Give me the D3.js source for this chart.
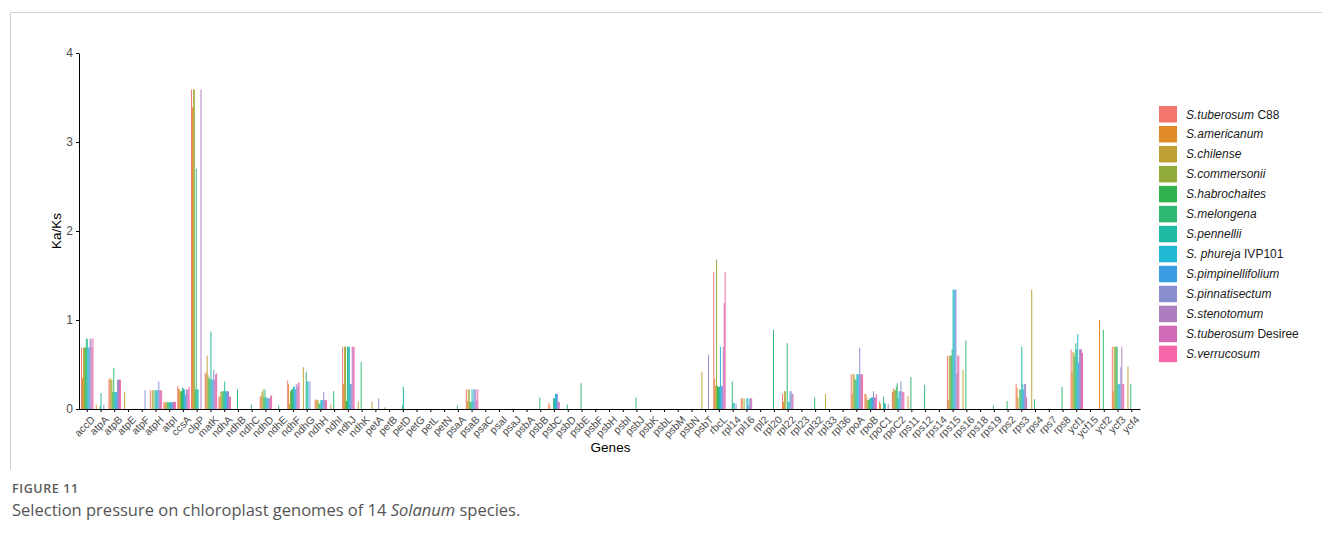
<!DOCTYPE html>
<html>
<head>
<meta charset="utf-8">
<script src="https://cdn.jsdelivr.net/npm/d3@7/dist/d3.min.js"></script>
<style>
  html, body { margin: 0; padding: 0; background: #fff; }
  svg { display: block; }
  .axis text { font-family: "Liberation Sans", Arial, sans-serif; fill: #4d4d4d; }
  .axis path, .axis line { stroke: #000; }
</style>
</head>
<body>
<svg id="chart" width="1322" height="537"></svg>
<script>
// Genes along the x axis
const genes = ["accD","atpA","atpB","atpE","atpF","atpH","atpI","ccsA","clpP","matK",
  "ndhA","ndhB","ndhC","ndhD","ndhE","ndhF","ndhG","ndhH","ndhI","ndhJ",
  "ndhK","petA","petB","petD","petG","petL","petN","psaA","psaB","psaC",
  "psaI","psaJ","psbA","psbB","psbC","psbD","psbE","psbF","psbH","psbI",
  "psbJ","psbK","psbL","psbM","psbN","psbT","rbcL","rpl14","rpl16","rpl2",
  "rpl20","rpl22","rpl23","rpl32","rpl33","rpl36","rpoA","rpoB","rpoC1","rpoC2",
  "rps11","rps12","rps14","rps15","rps16","rps18","rps19","rps2","rps3","rps4",
  "rps7","rps8","ycf1","ycf15","ycf2","ycf3","ycf4"];

// Species (legend order): [italic part, plain part]
const speciesNames = [
  ["S.tuberosum", " C88"], ["S.americanum", ""], ["S.chilense", ""], ["S.commersonii", ""],
  ["S.habrochaites", ""], ["S.melongena", ""], ["S.pennellii", ""], ["S. phureja", " IVP101"],
  ["S.pimpinellifolium", ""], ["S.pinnatisectum", ""], ["S.stenotomum", ""],
  ["S.tuberosum", " Desiree"], ["S.verrucosum", ""]
];

const speciesColors = ["#F4766F","#E08A2A","#BFA032","#92AC3C","#2FB24B","#2EB673","#1DB9A2",
  "#20B7D5","#3A9DE2","#888ED0","#AE7DBF","#D16AB6","#F565A8"];

// Ka/Ks per gene, one array per species (same order as genes)
const tuberosumC88 = [
  0.69,0,0.33,0,0,0.21,0.08,0.26,3.59,0.40,
  0.14,0,0,0.14,0,0.32,0,0.10,0,0.70,
  0,0,0,0,0,0,0,0,0.22,0,
  0,0,0,0,0.07,0,0,0,0,0,
  0,0,0,0,0,0,1.54,0,0.12,0,
  0,0.17,0,0,0,0,0.39,0.17,0,0.19,
  0,0,0,0.60,0,0,0,0,0.28,0,
  0,0,0.67,0,0,0.70,0];
const americanum = [
  0.35,0.05,0.35,0,0,0,0.07,0.23,3.39,0.41,
  0.14,0,0,0.15,0,0.28,0,0.11,0,0.28,
  0,0,0.02,0,0,0,0,0,0.09,0,
  0,0,0,0,0.04,0,0,0,0,0,
  0,0,0,0,0,0,0.34,0,0.12,0,
  0,0.08,0,0,0,0,0.17,0.17,0.08,0.23,
  0,0,0,0.10,0,0,0,0,0.24,0,
  0,0,0.42,0,1.00,0.20,0];
const chilense = [
  0.69,0,0.33,0.19,0,0.21,0.08,0.22,3.59,0.60,
  0.19,0,0,0.19,0,0.06,0.47,0.10,0.05,0.70,
  0.08,0.08,0,0,0,0,0,0,0.22,0,
  0,0,0,0,0,0,0,0,0,0,
  0,0,0,0,0,0.42,0.26,0,0,0,
  0,0.20,0,0,0.17,0,0.39,0.13,0.06,0.21,
  0.15,0,0,0.60,0.44,0,0,0,0.13,1.34,
  0,0,0.64,0,0,0.70,0.48];
const commersonii = [
  0.69,0,0.33,0,0,0.21,0.07,0.20,3.59,0.38,
  0.20,0,0,0.22,0,0.20,0,0.10,0,0.70,
  0,0,0,0,0,0,0,0,0.22,0,
  0,0,0,0,0,0,0,0,0,0,
  0,0,0,0,0,0,1.68,0,0.12,0,
  0,0.20,0,0,0,0,0.39,0.10,0,0.21,
  0,0,0,0.60,0,0,0,0,0,0,
  0,0,0.63,0,0,0.70,0];
const habrochaites = [
  0.69,0,0.19,0,0,0,0.08,0.20,0.22,0.35,
  0.20,0,0,0.13,0,0.22,0,0.06,0,0.09,
  0,0,0,0,0,0,0,0,0.08,0,
  0,0,0,0,0,0,0,0,0,0,
  0,0,0,0,0,0,0.26,0,0,0,
  0,0,0,0,0,0,0.33,0.10,0,0.25,
  0,0,0,0.60,0,0,0,0,0.22,0,
  0,0,0.59,0,0,0.70,0];
const melongena = [
  0.79,0.03,0.46,0,0,0.21,0.07,0.24,2.70,0.33,
  0.20,0.22,0.05,0.22,0.04,0.22,0.42,0.06,0.20,0.70,
  0.53,0,0,0.04,0,0,0,0.04,0.08,0,
  0,0,0,0.13,0.12,0.05,0.29,0,0,0,
  0.13,0,0,0,0,0,0.25,0.31,0,0,
  0.89,0.74,0,0.13,0,0,0.33,0.12,0.14,0.29,
  0.36,0.27,0,0.67,0.77,0,0.04,0.09,0.22,0.11,
  0,0.25,0.74,0,0.89,0.70,0.28];
const pennellii = [
  0.79,0.18,0.19,0,0,0.21,0.08,0.23,0.22,0.87,
  0.31,0,0,0.13,0,0.25,0.31,0.10,0,0.70,
  0,0,0,0.25,0,0,0,0,0.22,0,
  0,0,0,0,0.12,0,0,0,0,0,
  0,0,0,0,0,0,0.25,0.07,0.12,0,
  0,0.08,0,0,0,0,0.39,0.12,0.07,0.12,
  0,0,0,1.34,0,0,0,0,0.70,0,
  0,0,0.67,0,0,0.28,0];
const phurejaIVP101 = [
  0.69,0,0.19,0,0,0.21,0.08,0.22,0.22,0.33,
  0.20,0,0,0.13,0,0.25,0.31,0.10,0,0.70,
  0,0,0,0,0,0,0,0,0.09,0,
  0,0,0,0,0.17,0,0,0,0,0,
  0,0,0,0,0,0,0.70,0.07,0.12,0,
  0,0.08,0,0,0,0,0.39,0.13,0.06,0.20,
  0,0,0,1.34,0,0,0,0,0.28,0,
  0,0,0.84,0,0,0.28,0];
const pimpinellifolium = [
  0.69,0,0.19,0,0,0.21,0.07,0.16,0,0.33,
  0.20,0,0,0.12,0,0.22,0,0.10,0,0.28,
  0,0,0,0,0,0,0,0,0.22,0,
  0,0,0,0,0.17,0,0,0,0,0,
  0,0,0,0,0,0,0.26,0,0.04,0,
  0,0.20,0,0,0,0,0.39,0.13,0,0.20,
  0,0,0,1.34,0,0,0,0,0.22,0,
  0,0,0.52,0,0,0.28,0];
const pinnatisectum = [
  0.79,0.05,0.33,0,0.21,0.31,0.08,0.22,0,0.44,
  0.20,0,0,0.12,0,0.28,0.31,0.19,0,0.28,
  0,0.12,0,0,0,0,0,0,0.22,0,
  0,0,0,0,0.17,0,0,0,0,0,
  0,0,0,0,0,0.61,0.26,0.06,0.12,0,
  0,0.20,0,0,0,0,0.69,0.20,0,0.31,
  0,0,0,1.34,0,0,0,0,0.28,0,
  0,0,0.67,0,0,0.47,0];
const stenotomum = [
  0.79,0,0.33,0,0,0.21,0.08,0.22,3.59,0.33,
  0.20,0,0,0.12,0,0.25,0,0.10,0,0.70,
  0,0,0,0,0,0,0,0,0.22,0,
  0,0,0,0,0.08,0,0,0,0,0,
  0,0,0,0,0,0,0.70,0,0.12,0,
  0,0.17,0,0,0,0,0.39,0.13,0.06,0.20,
  0,0,0,0.40,0,0,0,0,0.28,0,
  0,0,0.67,0,0,0.70,0];
const tuberosumDesiree = [
  0.69,0,0.33,0,0,0.21,0.08,0.22,0,0.39,
  0.14,0,0,0.15,0,0.29,0,0.10,0,0.70,
  0,0,0,0,0,0,0,0,0.10,0,
  0,0,0,0,0.08,0,0,0,0,0,
  0,0,0,0,0,0,1.19,0,0.12,0,
  0,0.17,0,0,0,0,0.39,0.13,0,0.19,
  0,0,0,0.60,0,0,0,0,0.13,0,
  0,0,0.67,0,0,0.28,0];
const verrucosum = [
  0.79,0,0.33,0,0,0.21,0.08,0.25,0,0.40,
  0.14,0,0,0.15,0,0.30,0,0.10,0,0.70,
  0,0,0,0,0,0,0,0,0.22,0,
  0,0,0,0,0,0,0,0,0,0,
  0,0,0,0,0,0,1.54,0,0,0,
  0,0,0,0,0,0,0.39,0.17,0,0.19,
  0,0,0,0.60,0,0,0,0,0,0,
  0,0,0.63,0,0,0.28,0];

const seriesValues = [tuberosumC88, americanum, chilense, commersonii, habrochaites, melongena,
  pennellii, phurejaIVP101, pimpinellifolium, pinnatisectum, stenotomum, tuberosumDesiree, verrucosum];

const yTicks = [0, 1, 2, 3, 4];

const svg = d3.select("#chart");
const font = '"Liberation Sans", Arial, sans-serif';

// outer figure frame (top and left rules)
svg.append("path")
  .attr("d", "M1322,12.5 H10.5 V470")
  .attr("fill", "none").attr("stroke", "#cfcfcf").attr("stroke-width", 1);

const plot = { left: 79, right: 1140, top: 53, bottom: 409 };

const x = d3.scaleBand().domain(genes).range([plot.left, plot.right])
  .paddingInner(0).paddingOuter(0.1);
const sub = d3.scaleBand().domain(d3.range(speciesNames.length))
  .range([x.bandwidth() * 0.05, x.bandwidth() * 0.95]).padding(0);
const y = d3.scaleLinear().domain([0, 4]).range([plot.bottom, plot.top]);

const records = [];
seriesValues.forEach((vals, s) => {
  vals.forEach((v, g) => { if (v > 0) records.push({ gene: genes[g], s, v }); });
});

svg.append("g").selectAll("rect").data(records).join("rect")
  .attr("x", d => x(d.gene) + sub(d.s))
  .attr("width", sub.bandwidth())
  .attr("y", d => y(d.v))
  .attr("height", d => y(0) - y(d.v))
  .attr("fill", d => speciesColors[d.s]);

// y axis
const yAxis = svg.append("g").attr("class", "axis")
  .attr("transform", `translate(${plot.left},0)`)
  .call(d3.axisLeft(y).tickValues(yTicks).tickFormat(d3.format("d")).tickSize(3).tickSizeOuter(0));
yAxis.selectAll("text").attr("font-size", 12).attr("x", -6);
yAxis.selectAll("line").attr("stroke", "#333");

// x axis
const xAxis = svg.append("g").attr("class", "axis")
  .attr("transform", `translate(0,${plot.bottom})`)
  .call(d3.axisBottom(x).tickSize(3).tickSizeOuter(0));
xAxis.selectAll("line").attr("stroke", "#333");
xAxis.selectAll("text")
  .attr("font-size", 10.5)
  .attr("text-anchor", "end")
  .attr("x", 0).attr("y", 0).attr("dy", "0.72em")
  .attr("transform", "translate(3,6) rotate(-45)");

// axis titles
svg.append("text").attr("x", (plot.left + plot.right) / 2 + 1).attr("y", 452)
  .attr("text-anchor", "middle").attr("font-family", font).attr("font-size", 13.5)
  .attr("fill", "#000").text("Genes");
svg.append("text").attr("transform", `translate(61,${(plot.top + plot.bottom) / 2}) rotate(-90)`)
  .attr("text-anchor", "middle").attr("font-family", font).attr("font-size", 13.5)
  .attr("fill", "#000").text("Ka/Ks");

// legend
const legend = svg.append("g").attr("transform", "translate(1159,106)");
const item = legend.selectAll("g").data(speciesNames).join("g")
  .attr("transform", (d, i) => `translate(0,${i * 19.97})`);
item.append("rect").attr("width", 18).attr("height", 16.5)
  .attr("fill", (d, i) => speciesColors[i]);
const lt = item.append("text").attr("x", 27).attr("y", 12.5)
  .attr("font-family", font).attr("font-size", 12).attr("fill", "#1a1a1a");
lt.append("tspan").attr("font-style", "italic").text(d => d[0]);
lt.append("tspan").text(d => d[1]);

// caption
svg.append("text").attr("x", 12).attr("y", 493)
  .attr("font-family", '"Open Sans", sans-serif').attr("font-size", 12.5)
  .attr("font-weight", 600).attr("letter-spacing", 0.6).attr("fill", "#5a5a5a")
  .text("FIGURE 11");
const cap = svg.append("text").attr("x", 12).attr("y", 516)
  .attr("font-family", '"Open Sans", sans-serif').attr("font-size", 16.5).attr("fill", "#555");
cap.append("tspan").text("Selection pressure on chloroplast genomes of 14 ");
cap.append("tspan").attr("font-style", "italic").text("Solanum");
cap.append("tspan").text(" species.");
</script>
</body>
</html>
